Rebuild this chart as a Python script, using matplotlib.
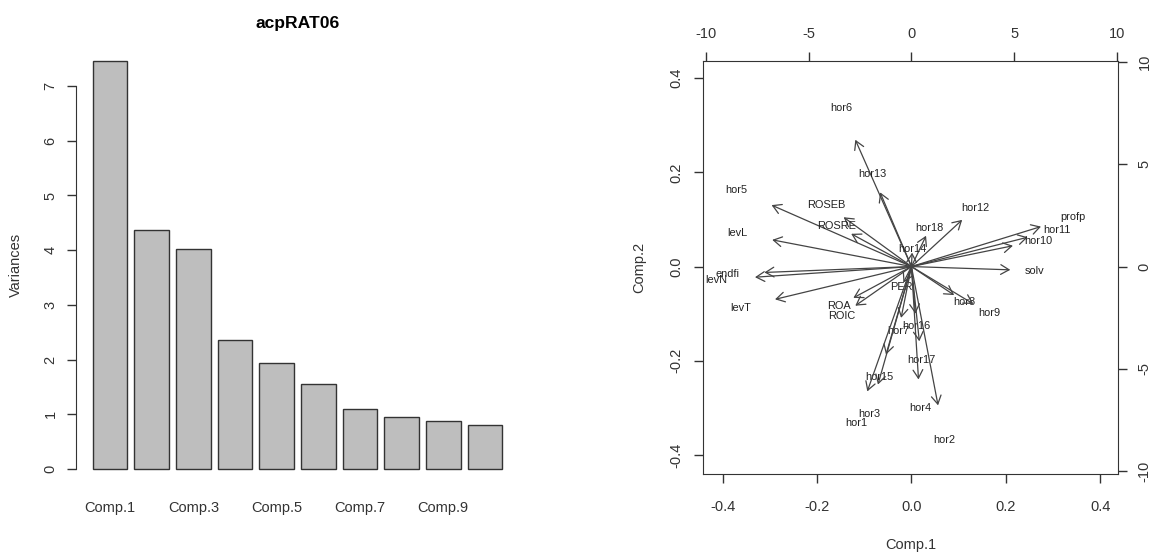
import matplotlib
matplotlib.use("Agg")
import matplotlib.pyplot as plt
import numpy as np

plt.rcParams['font.family'] = ['Liberation Sans', 'DejaVu Sans']
plt.rcParams['axes.unicode_minus'] = False

# scree plot data
comp_names = ['Comp.%d' % i for i in range(1, 11)]
variances = [7.46, 4.37, 4.03, 2.36, 1.94, 1.55, 1.10, 0.96, 0.88, 0.80]

# biplot loadings (label positions, top/right scale)
var_names = ['hor6', 'hor13', 'hor5', 'ROSEB', 'hor12', 'profp', 'ROSRE', 'hor18',
             'hor11', 'levL', 'hor10', 'hor14', 'solv', 'endfi', 'levN', 'PER',
             'levT', 'ROA', 'ROIC', 'hor8', 'hor9', 'hor16', 'hor7', 'hor17',
             'hor15', 'hor4', 'hor3', 'hor1', 'hor2']
load_pc1 = [-3.42, -1.91, -8.52, -4.13, 3.09, 7.89, -3.67, 0.89,
            7.08, -8.48, 6.18, 0.04, 6.02, -8.96, -9.53, -0.49,
            -8.31, -3.54, -3.42, 2.60, 3.77, 0.24, -0.63, 0.48,
            -1.55, 0.43, -2.04, -2.69, 1.62]
load_pc2 = [7.74, 4.53, 3.75, 3.01, 2.85, 2.44, 2.00, 1.88,
            1.79, 1.63, 1.27, 0.85, -0.20, -0.36, -0.65, -0.98,
            -2.00, -1.91, -2.39, -1.74, -2.28, -2.88, -3.13, -4.56,
            -5.37, -6.89, -7.20, -7.62, -8.47]

txt_col = '#333333'
base = 10.5

fig = plt.figure(figsize=(11.57, 5.53), dpi=100)

# ---- left: variances barplot ----
ax = fig.add_axes([0.06595, 0.12224, 0.38237, 0.79729])
n = len(variances)
centers = 0.7 + 1.2 * np.arange(n)
ax.bar(centers, variances, width=1.0, color='#BEBEBE', edgecolor='#333333', linewidth=1.0)
xmin, xmax = 0.2, 1.2 * n
ax.set_xlim(xmin - 0.04 * (xmax - xmin), xmax + 0.04 * (xmax - xmin))
ymax = max(variances)
ax.set_ylim(-0.04 * ymax, ymax * 1.04)
for s in ['top', 'right', 'bottom']:
    ax.spines[s].set_visible(False)
ax.spines['left'].set_bounds(0, 7)
ax.spines['left'].set_color('#333333')
ax.set_yticks(range(0, 8))
ax.set_yticklabels([str(v) for v in range(0, 8)], rotation=90, va='center')
ax.tick_params(axis='y', length=6.5, width=1, color='#333333', labelcolor=txt_col,
               labelsize=base, pad=7)
ax.set_xticks(centers[::2])
ax.set_xticklabels(comp_names[::2])
ax.tick_params(axis='x', length=0, labelcolor=txt_col, labelsize=base, pad=11)
ax.set_ylabel('Variances', fontsize=base, color=txt_col)
ax.yaxis.set_label_coords(-0.121, 0.5)
ax.set_title('acpRAT06', fontsize=base * 1.2, fontweight='bold', pad=12)

# ---- right: biplot ----
lim = (-0.441, 0.437)
ratio = 23.0
axb = fig.add_axes([0.60787, 0.14231, 0.35817, 0.74792])
axb.set_xlim(lim)
axb.set_ylim(lim)
ticks = [-0.4, -0.2, 0.0, 0.2, 0.4]
axb.set_xticks(ticks)
axb.set_xticklabels(['%.1f' % t for t in ticks])
axb.set_yticks(ticks)
axb.set_yticklabels(['%.1f' % t for t in ticks], rotation=90, va='center')
axb.tick_params(axis='both', length=6.5, width=1, color='#333333', labelcolor=txt_col,
                labelsize=base)
axb.tick_params(axis='x', pad=12)
axb.tick_params(axis='y', pad=8)
axb.set_xlabel('Comp.1', fontsize=base, color=txt_col)
axb.set_ylabel('Comp.2', fontsize=base, color=txt_col)
axb.xaxis.set_label_coords(0.5, -0.154)
axb.yaxis.set_label_coords(-0.138, 0.5)
for s in axb.spines.values():
    s.set_color('#333333')

axl = fig.add_axes(axb.get_position(), frameon=False)
axl.set_xlim(lim[0] * ratio, lim[1] * ratio)
axl.set_ylim(lim[0] * ratio, lim[1] * ratio)
lt = [-10, -5, 0, 5, 10]
axl.xaxis.tick_top()
axl.yaxis.tick_right()
axl.set_xticks(lt)
axl.set_xticklabels([str(t) for t in lt])
axl.set_yticks(lt)
axl.set_yticklabels([str(t) for t in lt], rotation=90, va='center')
axl.tick_params(axis='both', length=6.5, width=1, color='#333333', labelcolor=txt_col,
                labelsize=base)
axl.tick_params(axis='x', pad=8)
axl.tick_params(axis='y', pad=8)

for name, lx, ly in zip(var_names, load_pc1, load_pc2):
    axl.annotate('', xy=(0.8 * lx, 0.8 * ly), xytext=(0, 0),
                 arrowprops=dict(arrowstyle='->,head_length=0.6,head_width=0.35',
                                 color='#444444', lw=0.9, shrinkA=0, shrinkB=0))
    axl.text(lx, ly, name, fontsize=7.9, color='#222222', ha='center', va='center')

fig.savefig('out.png', dpi=100)
